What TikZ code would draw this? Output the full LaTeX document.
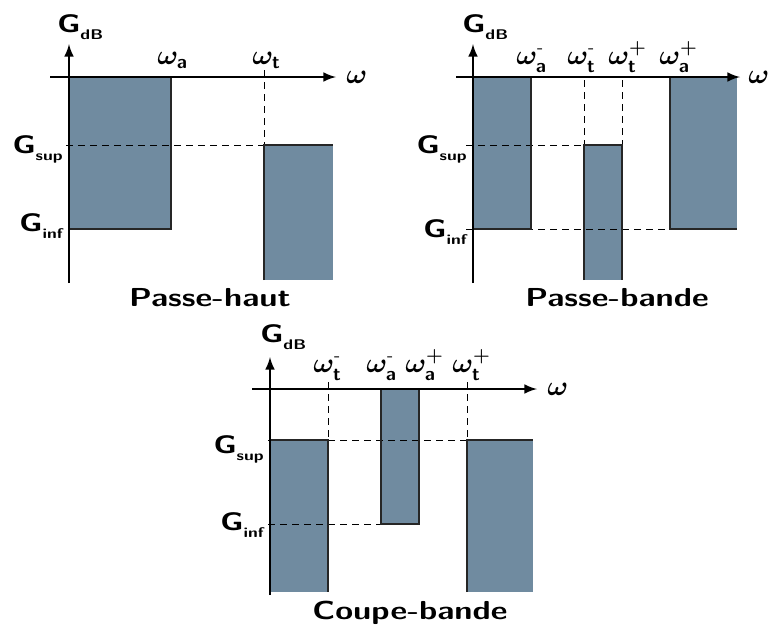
\documentclass[tikz,border=0pt]{standalone}
\usepackage{amsmath}
\usepackage{graphicx}
\definecolor{gabarit}{RGB}{112,139,160}
\tikzset{>=latex}
\tikzset{
  axe/.style = {line width=2.2pt,->},
  zone/.style = {fill=gabarit},
  bord/.style = {line width=1.6pt,draw=black!85},
  pointille/.style = {line width=0.7pt,dash pattern=on 5pt off 4pt},
  titre/.style = {font=\sffamily\bfseries\fontsize{19.5}{19.5}\selectfont},
  gain/.style = {font=\sffamily\bfseries\fontsize{19}{19}\selectfont,inner sep=0pt},
  puls/.style = {font=\fontsize{20}{20}\selectfont\boldmath,inner sep=0pt}
}
\newcommand{\etire}[1]{\scalebox{1.25}[1]{#1}}
\newcommand{\Gsb}[1]{\etire{G\raisebox{-0.3em}{\fontsize{10.5}{10.5}\selectfont #1}}}
\newcommand{\Wp}[2]{$\omega^{#2}_{\mathsf{#1}}$}
\newcommand{\mn}{\textsf{-}}

\begin{document}
\begin{tikzpicture}[x=0.75pt,y=-0.75pt]
  \useasboundingbox (0,0) rectangle (768,633);
  % passe-haut
  \begin{scope}[shift={(69,77)}]
    \fill[zone] (0,0) rectangle (102,152);
    \fill[zone] (195,68) rectangle (264,203);
    \draw[pointille] (-3,68) -- (195,68);
    \draw[pointille] (195,-7) -- (195,68);
    \draw[bord] (0,152) -- (102,152) -- (102,0);
    \draw[bord] (195,203) -- (195,68) -- (264,68);
    \draw[axe] (0,206) -- (0,-33);
    \draw[axe] (-19,0) -- (267,0);
    \node[gain,anchor=base west] (gdb1) at (-12,-45) {\Gsb{dB}};
    \node[gain,anchor=base east] (gsup1) at (-6,76) {\Gsb{sup}};
    \node[gain,anchor=base east] (ginf1) at (-6,154) {\Gsb{inf}};
    \node[puls,anchor=base west] (wa1) at (88,-13) {$\omega_{\mathsf{a}}$};
    \node[puls,anchor=base west] (wt1) at (183,-13) {$\omega_{\mathsf{t}}$};
    \node[puls,anchor=west] (w1) at (277,0) {$\omega$};
    \node[titre] (t1) at (141,221) {\etire{Passe-haut}};
  \end{scope}
  % passe-bande
  \begin{scope}[shift={(473,77)}]
    \fill[zone] (0,0) rectangle (58,152);
    \fill[zone] (111,68) rectangle (149,203);
    \fill[zone] (197,0) rectangle (264,152);
    \draw[pointille] (-7,68) -- (111,68);
    \draw[pointille] (-7,152) -- (197,152);
    \draw[pointille] (111,3) -- (111,68);
    \draw[pointille] (149,3) -- (149,68);
    \draw[bord] (0,152) -- (58,152) -- (58,0);
    \draw[bord] (111,203) -- (111,68) -- (149,68) -- (149,203);
    \draw[bord] (197,0) -- (197,152) -- (264,152);
    \draw[axe] (0,206) -- (0,-33);
    \draw[axe] (-17,0) -- (267,0);
    \node[gain,anchor=base west] (gdb2) at (-11,-45) {\Gsb{dB}};
    \node[gain,anchor=base east] (gsup2) at (-6,76) {\Gsb{sup}};
    \node[gain,anchor=base east] (ginf2) at (-6,160) {\Gsb{inf}};
    \node[puls,anchor=base west] (wa2) at (43,-13) {\Wp{a}{\mn}};
    \node[puls,anchor=base west] (wt2) at (94,-13) {\Wp{t}{\mn}};
    \node[puls,anchor=base west] (wt3) at (135,-13) {\Wp{t}{+}};
    \node[puls,anchor=base west] (wa3) at (186,-13) {\Wp{a}{+}};
    \node[puls,anchor=west] (w2) at (275,0) {$\omega$};
    \node[titre] (t2) at (144,221) {\etire{Passe-bande}};
  \end{scope}
  % coupe-bande
  \begin{scope}[shift={(270,389)}]
    \fill[zone] (0,51) rectangle (58,203);
    \fill[zone] (111,0) rectangle (149,135);
    \fill[zone] (197,51) rectangle (263,203);
    \draw[pointille] (-2,51) -- (197,51);
    \draw[pointille] (-2,135) -- (111,135);
    \draw[pointille] (58,-7) -- (58,51);
    \draw[pointille] (197,-7) -- (197,51);
    \draw[bord] (0,51) -- (58,51) -- (58,203);
    \draw[bord] (111,0) -- (111,135) -- (149,135) -- (149,0);
    \draw[bord] (197,203) -- (197,51) -- (263,51);
    \draw[axe] (0,206) -- (0,-32);
    \draw[axe] (-18,0) -- (267,0);
    \node[gain,anchor=base west] (gdb3) at (-10,-47) {\Gsb{dB}};
    \node[gain,anchor=base east] (gsup3) at (-6,64) {\Gsb{sup}};
    \node[gain,anchor=base east] (ginf3) at (-6,141) {\Gsb{inf}};
    \node[puls,anchor=base west] (wt4) at (43,-17) {\Wp{t}{\mn}};
    \node[puls,anchor=base west] (wa4) at (96,-17) {\Wp{a}{\mn}};
    \node[puls,anchor=base west] (wa5) at (135,-17) {\Wp{a}{+}};
    \node[puls,anchor=base west] (wt5) at (182,-17) {\Wp{t}{+}};
    \node[puls,anchor=west] (w3) at (277,0) {$\omega$};
    \node[titre] (t3) at (140,224) {\etire{Coupe-bande}};
  \end{scope}
\end{tikzpicture}
\end{document}
